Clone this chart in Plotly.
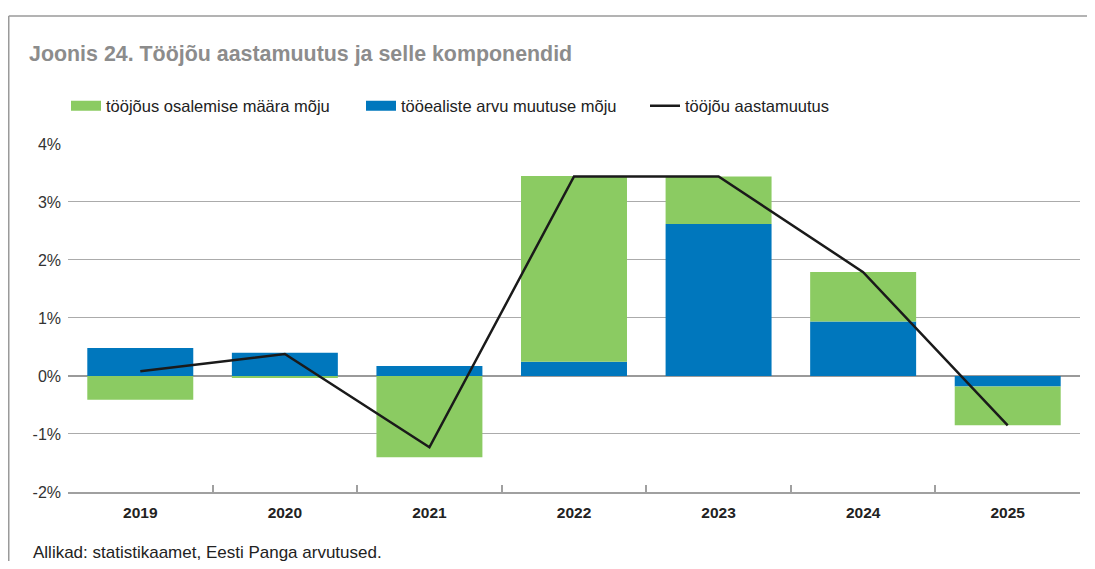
import plotly.graph_objects as go

# andmed (loetud jooniselt)
years = ["2019", "2020", "2021", "2022", "2023", "2024", "2025"]
osalemine = [-0.41, -0.03, -1.40, 3.20, 0.82, 0.85, -0.67]   # tööjõus osalemise määra mõju
tooealised = [0.48, 0.40, 0.17, 0.245, 2.62, 0.94, -0.18]   # tööealiste arvu muutuse mõju
aastamuutus = [0.08, 0.38, -1.23, 3.44, 3.44, 1.79, -0.85]  # tööjõu aastamuutus

y_tickvals = [-2, -1, 0, 1, 2, 3, 4]
y_ticktext = ["-2%", "-1%", "0%", "1%", "2%", "3%", "4%"]

FONT = "Liberation Sans, Arial, Helvetica, sans-serif"
GREEN = "#8BCB62"
BLUE = "#0077BD"

# lehe body-l on 8px veeris, seega joonis on 8px võrra nihkes
W, H = 1087, 553
L, R, T, B = 60, 15, 132, 69
PW, PH = W - L - R, H - T - B


def px(fx):
    return (fx - L) / PW


def py(fy):
    return (H - B - fy) / PH


fig = go.Figure()
fig.add_trace(go.Bar(
    x=years, y=tooealised, name="tööealiste arvu muutuse mõju",
    marker=dict(color=BLUE, line=dict(width=0)), showlegend=False,
))
fig.add_trace(go.Bar(
    x=years, y=osalemine, name="tööjõus osalemise määra mõju",
    marker=dict(color=GREEN, line=dict(width=0)), showlegend=False,
))
fig.add_trace(go.Scatter(
    x=years, y=aastamuutus, name="tööjõu aastamuutus", mode="lines",
    line=dict(color="#1a1a1a", width=2.5), legend="legend3",
))

# laiad legendi kastid (tulpade legend)
fig.add_trace(go.Scatter(x=[None], y=[None], mode="lines", name="tööjõus osalemise määra mõju",
                         line=dict(color=GREEN, width=13), legend="legend", hoverinfo="skip"))
fig.add_trace(go.Scatter(x=[None], y=[None], mode="lines", name="tööealiste arvu muutuse mõju",
                         line=dict(color=BLUE, width=13), legend="legend2", hoverinfo="skip"))

leg = dict(orientation="h", xref="container", yref="container", y=1 - 98 / H,
           yanchor="middle", xanchor="left", bgcolor="rgba(0,0,0,0)",
           font=dict(family=FONT, size=16.5, color="#222222"))

# raam ümber joonise
frame_col = "#9a9a9a"
fl, fr, ft = px(0.75), px(1080), py(2.7)
shapes = [
    dict(type="line", xref="paper", yref="paper", x0=fl, x1=fl, y0=-0.4, y1=ft,
         line=dict(color=frame_col, width=1.5)),
    dict(type="line", xref="paper", yref="paper", x0=fl, x1=fr, y0=ft, y1=ft,
         line=dict(color=frame_col, width=1.5)),
    dict(type="line", xref="paper", yref="paper", x0=fr, x1=fr, y0=-0.4, y1=ft,
         line=dict(color=frame_col, width=1.5)),
]

fig.update_layout(
    width=W, height=H,
    margin=dict(l=L, r=R, t=T, b=B),
    paper_bgcolor="white", plot_bgcolor="white",
    barmode="relative", bargap=0.267,
    showlegend=True,
    font=dict(family=FONT, color="#222222"),
    title=dict(text="Joonis 24. Tööjõu aastamuutus ja selle komponendid",
               xref="container", yref="container", x=21 / W, y=1 - 46 / H,
               xanchor="left", yanchor="middle",
               font=dict(family=FONT, size=21.4, color="#8c8c8c", weight="bold")),
    legend=dict(leg, x=58 / W),
    legend2=dict(leg, x=353 / W),
    legend3=dict(leg, x=637 / W),
    shapes=shapes,
    annotations=[dict(text="Allikad: statistikaamet, Eesti Panga arvutused.",
                      xref="paper", yref="paper", x=px(23), y=py(545),
                      xanchor="left", yanchor="middle", showarrow=False,
                      font=dict(family=FONT, size=17, color="#222222"))],
)

fig.update_xaxes(
    type="category", showgrid=False, showline=True, linecolor="#a0a0a0", linewidth=1.5,
    ticks="inside", tickson="boundaries", ticklen=7, tickcolor="#a0a0a0", tickwidth=1.5,
    tickfont=dict(family=FONT, size=15.5, color="#222222", weight="bold"),
    ticklabelstandoff=6,
)
fig.update_yaxes(
    range=[-2, 4], tickvals=y_tickvals, ticktext=y_ticktext,
    showgrid=True, gridcolor="#ababab", gridwidth=1,
    zeroline=True, zerolinecolor="#9a9a9a", zerolinewidth=1.5,
    showline=False, ticks="", ticklabelstandoff=6,
    tickfont=dict(family=FONT, size=16, color="#333333"),
)

fig.write_html("out.html")
